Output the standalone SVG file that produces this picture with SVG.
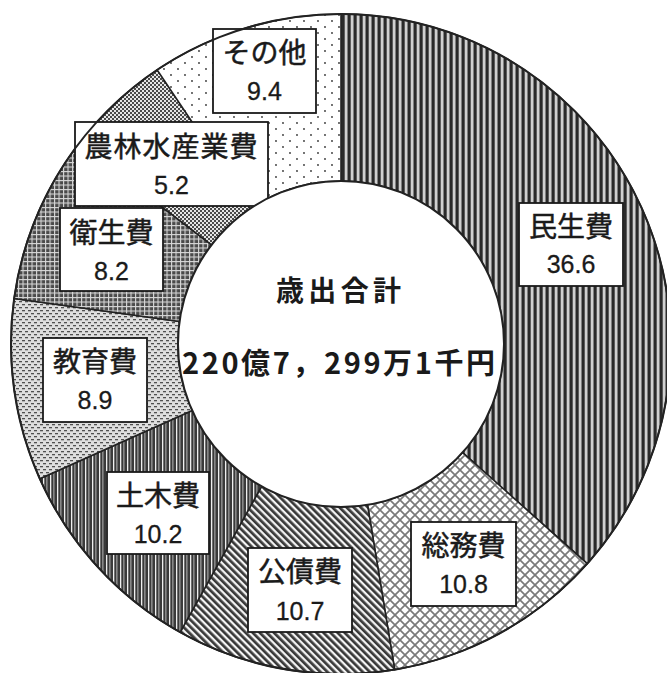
<svg xmlns="http://www.w3.org/2000/svg" width="667" height="673" viewBox="0 0 667 673">
<style>
.slice{stroke:#222;stroke-width:1.6;stroke-linejoin:round}
.box{fill:#fff;stroke:#1a1a1a;stroke-width:1.8}
.jp{font-family:"Noto Sans CJK JP","Noto Sans CJK SC",sans-serif;font-size:28px;fill:#1a1a1a;stroke:#1a1a1a;stroke-width:0.5px;text-anchor:middle}
.num{font-family:"Liberation Sans",Arial,sans-serif;font-size:25px;fill:#1a1a1a;stroke:#1a1a1a;stroke-width:0.3px;text-anchor:middle}
.ctr{font-family:"Noto Sans CJK JP","Noto Sans CJK SC",sans-serif;font-weight:700;fill:#1a1a1a}
</style>
<defs>
<pattern id="pMinsei" width="6" height="10" patternUnits="userSpaceOnUse">
<rect width="6" height="10" fill="#808080"/><rect x="0" width="2.4" height="10" fill="#2a2a2a"/><rect x="3.3" width="1.4" height="10" fill="#f2f2f2"/>
</pattern>
<pattern id="pSomu" width="10" height="10" patternUnits="userSpaceOnUse">
<rect width="10" height="10" fill="#fff"/><path d="M0,0L10,10M10,0L0,10" stroke="#7a7a7a" stroke-width="1.7" stroke-linecap="square"/>
</pattern>
<pattern id="pKosai" width="5" height="10" patternUnits="userSpaceOnUse" patternTransform="rotate(-45)">
<rect width="5" height="10" fill="#f4f4f4"/><rect x="0" width="2.7" height="10" fill="#383838"/>
</pattern>
<pattern id="pDoboku" width="7" height="10" patternUnits="userSpaceOnUse">
<rect width="7" height="10" fill="#3a3a3a"/><rect x="1" width="1.3" height="10" fill="#efefef"/><rect x="4.2" width="1.3" height="10" fill="#9a9a9a"/>
</pattern>
<pattern id="pKyoiku" width="6" height="6" patternUnits="userSpaceOnUse">
<rect width="6" height="6" fill="#dedede"/><rect x="1" y="1" width="3" height="1.3" fill="#505050"/><rect x="4" y="4" width="2" height="1.3" fill="#505050"/><rect x="0" y="4" width="1" height="1.3" fill="#505050"/>
</pattern>
<pattern id="pEisei" width="4.5" height="4.5" patternUnits="userSpaceOnUse">
<rect width="4.5" height="4.5" fill="#4a4a4a"/><rect width="4.5" height="1.1" fill="#d8d8d8"/><rect width="1.1" height="4.5" fill="#d8d8d8"/>
</pattern>
<pattern id="pNorin" width="4" height="4" patternUnits="userSpaceOnUse">
<rect width="4" height="4" fill="#4a4a4a"/><rect width="2" height="2" fill="#e6e6e6"/><rect x="2" y="2" width="2" height="2" fill="#e6e6e6"/>
</pattern>
<pattern id="pSonota" width="14" height="12" patternUnits="userSpaceOnUse">
<rect width="14" height="12" fill="#fff"/><circle cx="3" cy="3" r="0.9" fill="#333"/><circle cx="10" cy="9" r="0.9" fill="#333"/>
</pattern>
</defs>
<g id="minsei">
<path class="slice" fill="url(#pMinsei)" d="M341,14A330,330 0 0 1 587.2,563.7L462.6,452.5A163,163 0 0 0 341,181Z"/>
<rect class="box" x="519" y="203" width="104" height="83"/>
<text class="jp" x="571" y="237">民生費</text>
<text class="num" x="571" y="273">36.6</text>
</g>
<g id="somu">
<path class="slice" fill="url(#pSomu)" d="M587.2,563.7A330,330 0 0 1 394.7,669.6L367.5,504.8A163,163 0 0 0 462.6,452.5Z"/>
<rect class="box" x="411" y="522" width="105" height="84"/>
<text class="jp" x="463.5" y="556">総務費</text>
<text class="num" x="463.5" y="593">10.8</text>
</g>
<g id="kosai">
<path class="slice" fill="url(#pKosai)" d="M394.7,669.6A330,330 0 0 1 180.2,632.2L261.6,486.3A163,163 0 0 0 367.5,504.8Z"/>
<rect class="box" x="248" y="548" width="104" height="84"/>
<text class="jp" x="300" y="582">公債費</text>
<text class="num" x="300" y="620">10.7</text>
</g>
<g id="doboku">
<path class="slice" fill="url(#pDoboku)" d="M180.2,632.2A330,330 0 0 1 39.8,478.8L192.2,410.6A163,163 0 0 0 261.6,486.3Z"/>
<rect class="box" x="107" y="472" width="102" height="82"/>
<text class="jp" x="158" y="506">土木費</text>
<text class="num" x="158" y="543">10.2</text>
</g>
<g id="kyoiku">
<path class="slice" fill="url(#pKyoiku)" d="M39.8,478.8A330,330 0 0 1 14.1,298.5L179.5,321.5A163,163 0 0 0 192.2,410.6Z"/>
<rect class="box" x="43" y="338" width="104" height="84"/>
<text class="jp" x="95" y="372">教育費</text>
<text class="num" x="95" y="409">8.9</text>
</g>
<g id="eisei">
<path class="slice" fill="url(#pEisei)" d="M14.1,298.5A330,330 0 0 1 78.9,143.5L211.6,244.9A163,163 0 0 0 179.5,321.5Z"/>
</g>
<g id="norin">
<path class="slice" fill="url(#pNorin)" d="M78.9,143.5A330,330 0 0 1 157.2,69.9L250.2,208.6A163,163 0 0 0 211.6,244.9Z"/>
</g>
<g id="sonota">
<path class="slice" fill="url(#pSonota)" d="M157.2,69.9A330,330 0 0 1 341,14L341,181A163,163 0 0 0 250.2,208.6Z"/>
<rect class="box" x="213" y="29" width="103" height="84"/>
<text class="jp" x="264.5" y="63">その他</text>
<text class="num" x="264.5" y="100">9.4</text>
</g>
<g id="eisei-label">
<rect class="box" x="60" y="208" width="103" height="83"/>
<text class="jp" x="111.5" y="243">衛生費</text>
<text class="num" x="111.5" y="280">8.2</text>
</g>
<g id="norin-label">
<rect class="box" x="75" y="122" width="193" height="84"/>
<text class="jp" x="171.5" y="157" letter-spacing="1">農林水産業費</text>
<text class="num" x="171.5" y="194">5.2</text>
</g>
<g id="center">
<circle cx="341" cy="344" r="330" fill="none" stroke="#222" stroke-width="2"/>
<circle cx="341" cy="344" r="163" fill="#fff" stroke="#222" stroke-width="2"/>
<text class="ctr" x="276" y="301" font-size="28" textLength="125" lengthAdjust="spacing">歳出合計</text>
<text class="ctr" x="182" y="374" font-size="29" textLength="313" lengthAdjust="spacing">220億7，299万1千円</text>
</g>
</svg>
